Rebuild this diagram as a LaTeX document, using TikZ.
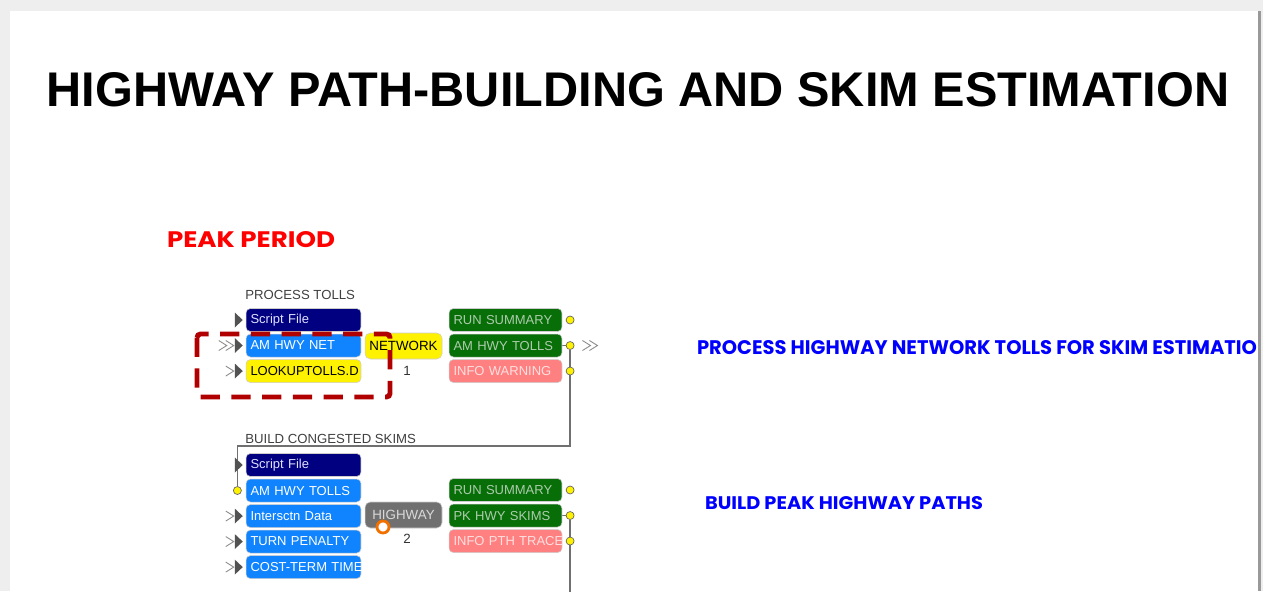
\documentclass[tikz,border=0pt]{standalone}
\usepackage{fontspec}
\setmainfont{Liberation Sans}
\newfontfamily\headfont{Poppins}
\usepackage{tikz}
\usetikzlibrary{positioning, calc, backgrounds}
\definecolor{boxnavy}{RGB}{0,0,128}
\definecolor{boxblue}{RGB}{16,132,255}
\definecolor{boxgreen}{RGB}{8,110,8}
\definecolor{boxpink}{RGB}{255,128,128}
\definecolor{boxgrey}{RGB}{112,112,112}
\definecolor{markred}{RGB}{176,0,0}
\definecolor{ringorange}{RGB}{240,112,0}
\definecolor{wiregrey}{RGB}{112,112,112}
\definecolor{shadowgrey}{RGB}{238,238,238}
\tikzset{
    slotbox/.style={rectangle, rounded corners=2.5pt, draw=white!80!black, line width=0.3pt,
                    minimum width=2.3cm, minimum height=0.46cm, text width=2.12cm,
                    inner xsep=0.09cm, inner ysep=0pt, align=left,
                    execute at begin node=\hbox\bgroup, execute at end node=\egroup,
                    font=\fontsize{7.4}{9}\selectfont},
    scriptbox/.style={slotbox, fill=boxnavy, text=white!88!blue},
    inbox/.style={slotbox, fill=boxblue, text=white},
    yelbox/.style={slotbox, fill=yellow, text=black},
    outbox/.style={slotbox, minimum width=2.26cm, text width=2.08cm, fill=boxgreen, text=green!15!white!80!black},
    infobox/.style={outbox, fill=boxpink, text=red!12!white},
    progbox/.style={rectangle, rounded corners=3pt, draw=white!80!black, line width=0.3pt,
                    minimum width=1.54cm, minimum height=0.52cm, inner sep=0pt, align=center,
                    font=\fontsize{7.6}{9}\selectfont},
    numlbl/.style={font=\fontsize{7.6}{9}\selectfont, text=black!80, inner sep=0pt},
    grplbl/.style={font=\fontsize{7.5}{9}\selectfont, text=black!75, inner sep=0pt, anchor=west},
    pdot/.style={circle, fill=yellow, draw=black!60, line width=0.4pt, inner sep=0pt, minimum size=0.16cm},
    wire/.style={draw=wiregrey, line width=0.8pt},
    chev/.style={draw=black!45, line width=0.5pt},
    portfill/.style={fill=black!68},
    ring/.style={circle, draw=ringorange, line width=1.6pt, fill=white, inner sep=0pt, minimum size=0.24cm},
}

\begin{document}
\begin{tikzpicture}[x=0.02cm, y=-0.02cm]
    \useasboundingbox (0,0) rectangle (1263,591);
    % slide
    \begin{scope}[on background layer]
    \fill[shadowgrey] (0,0) rectangle (1263,591);
    \fill[white] (10,11) rectangle (1258,591);
    \fill[black!40] (1258,11) rectangle (1261,591);
    \end{scope}

    \node[font=\fontsize{27.7}{32}\selectfont\bfseries, inner sep=0pt] (title) at (638,90)
        {HIGHWAY PATH-BUILDING AND SKIM ESTIMATION};
    \node[inner sep=0pt, text=red] (peak) at (251,240)
        {\resizebox{3.36cm}{0.32cm}{\headfont\bfseries PEAK PERIOD}};

    % process tolls
    \node[grplbl] (grp1) at (245,295) {PROCESS TOLLS};
    \node[scriptbox] (scr1) at (303.5,320) {Script File};
    \node[inbox, below=0.04cm of scr1] (net1) {AM HWY NET};
    \node[yelbox, below=0.04cm of net1] (look1) {LOOKUPTOLLS.D};
    \node[progbox, fill=yellow, text=black] (prog1) at (403.5,346) {NETWORK};
    \node[numlbl] (num1) at (407,371) {1};
    \node[outbox] (sum1) at (505.5,320) {RUN SUMMARY};
    \node[outbox, below=0.04cm of sum1] (toll1) {AM HWY TOLLS};
    \node[infobox, below=0.04cm of toll1] (warn1) {INFO WARNING};
    \node[pdot, right=0.07cm of sum1] (dsum1) {};
    \node[pdot, right=0.07cm of toll1] (dtoll1) {};
    \node[pdot, right=0.07cm of warn1] (dwarn1) {};
    \node[inner sep=0pt, text=blue] (note1) at (977,348)
        {\resizebox{11.2cm}{0.28cm}{\headfont\bfseries PROCESS HIGHWAY NETWORK TOLLS FOR SKIM ESTIMATIO}};

    % build congested skims
    \node[grplbl] (grp2) at (245,439) {BUILD CONGESTED SKIMS};
    \node[scriptbox] (scr2) at (303.5,465) {Script File};
    \node[inbox, below=0.04cm of scr2] (toll2) {AM HWY TOLLS};
    \node[inbox, below=0.04cm of toll2] (inter2) {Intersctn Data};
    \node[inbox, below=0.04cm of inter2] (turn2) {TURN PENALTY};
    \node[inbox, below=0.04cm of turn2] (cost2) {COST-TERM TIME};
    \node[progbox, fill=boxgrey, text=white!85!black] (prog2) at (403.5,515) {HIGHWAY};
    \node[ring] (ring2) at (383,527) {};
    \node[numlbl] (num2) at (407,539) {2};
    \node[outbox] (sum2) at (505.5,490) {RUN SUMMARY};
    \node[outbox, below=0.04cm of sum2] (skim2) {PK HWY SKIMS};
    \node[infobox, below=0.04cm of skim2] (trace2) {INFO PTH TRACE};
    \node[pdot, right=0.07cm of sum2] (dsum2) {};
    \node[pdot, right=0.07cm of skim2] (dskim2) {};
    \node[pdot, right=0.07cm of trace2] (dtrace2) {};
    \node[pdot, left=0.08cm of toll2] (din2) {};
    \node[inner sep=0pt, text=blue] (note2) at (844,503.5)
        {\resizebox{5.56cm}{0.26cm}{\headfont\bfseries BUILD PEAK HIGHWAY PATHS}};

    % input ports
    \foreach \n in {scr1,net1,look1,scr2,inter2,turn2,cost2}
        \fill[portfill] ($(\n.west)+(-11,-7.5)$) -- ++(8,7.5) -- ++(-8,7.5) -- cycle;
    \foreach \n in {look1,inter2,turn2,cost2}
        \draw[chev] ($(\n.west)+(-20,-5)$) -- ++(8,5) -- ++(-8,5);
    \foreach \dx in {-27,-20}
        \draw[chev] ($(net1.west)+(\dx,-5)$) -- ++(8,5) -- ++(-8,5);
    \foreach \dx in {8,15}
        \draw[chev] ($(dtoll1.east)+(\dx,-5)$) -- ++(8,5) -- ++(-8,5);

    % links
    \coordinate (brk) at (0,446);
    \coordinate (skimend) at (0,600);
    \begin{scope}[on background layer]
    \draw[wire] (toll1.east) -- (dtoll1);
    \draw[wire] (skim2.east) -- (dskim2);
    \draw[wire] (dtoll1) -- (dtoll1 |- brk) -| (din2);
    \draw[wire] (dskim2) -- (dskim2 |- skimend);
    \end{scope}

    % marked inputs
    \draw[markred, line width=2.8pt, dash pattern=on 11pt off 6.5pt, rounded corners=2pt]
        (197,334) rectangle (390,397);
\end{tikzpicture}
\end{document}
